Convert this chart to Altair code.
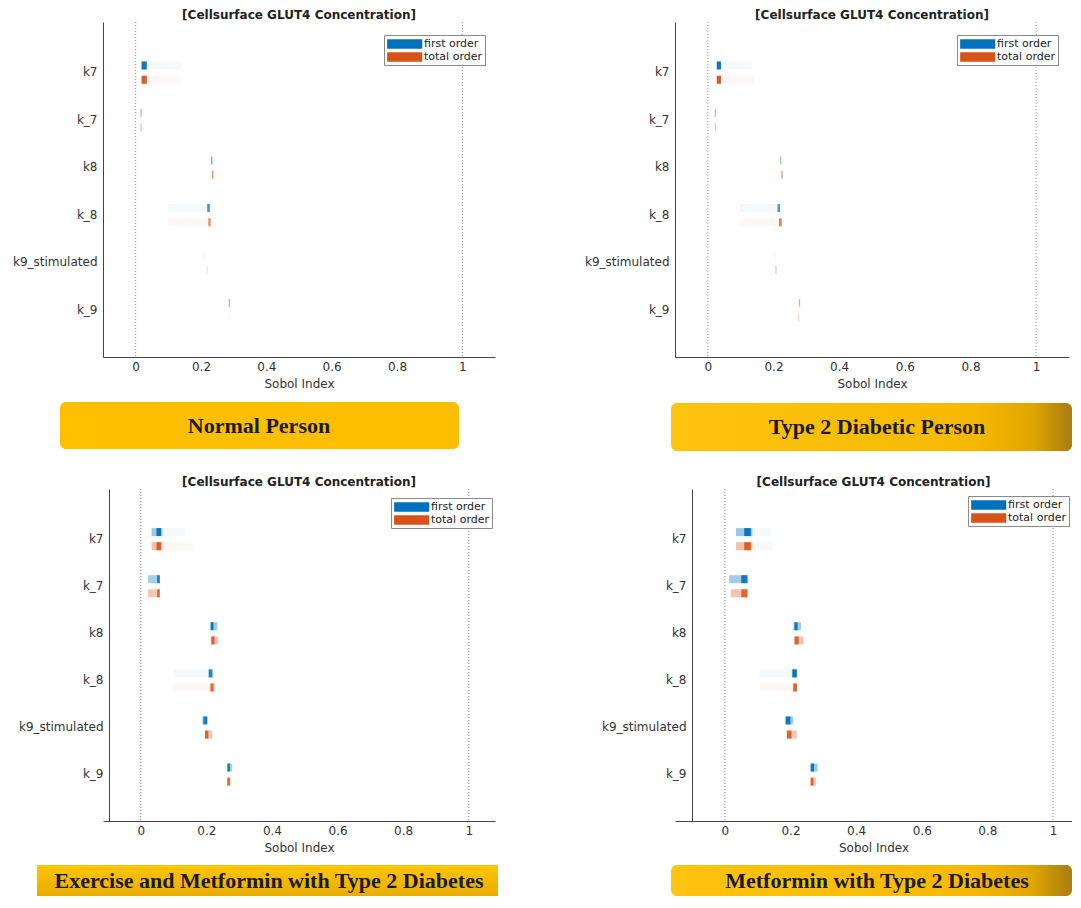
import json
import altair as alt
import pandas as pd

# ---------------- data ----------------
PARAMS = ["k7", "k_7", "k8", "k_8", "k9_stimulated", "k_9"]
ORDERS = ["first order", "total order"]
TITLE = "[Cellsurface GLUT4 Concentration]"
X_TICKS = [0, 0.2, 0.4, 0.6, 0.8, 1]
REF_LINES = [0, 1]
BANNERS = ["Normal Person", "Type 2 Diabetic Person",
           "Exercise and Metformin with Type 2 Diabetes", "Metformin with Type 2 Diabetes"]

# Normal Person
N_FIRST_CORE = [[0.018, 0.034], [0.015, 0.018], [0.231, 0.235], [0.219, 0.227], [0.210, 0.212], [0.285, 0.289]]
N_FIRST_PEAK = [0.95, 0.55, 0.6, 0.75, 0.12, 0.45]
N_FIRST_SPREAD = [[0.034, 0.14], None, None, [0.10, 0.219], None, None]
N_TOTAL_CORE = [[0.018, 0.034], [0.015, 0.018], [0.233, 0.238], [0.222, 0.230], [0.218, 0.220], [0.285, 0.288]]
N_TOTAL_PEAK = [0.95, 0.5, 0.6, 0.6, 0.3, 0.1]
N_TOTAL_SPREAD = [[0.034, 0.14], None, None, [0.10, 0.222], None, None]

# Type 2 Diabetic Person
D_FIRST_CORE = [[0.027, 0.040], [0.021, 0.024], [0.221, 0.224], [0.212, 0.220], [0.204, 0.206], [0.278, 0.281]]
D_FIRST_PEAK = [0.95, 0.5, 0.55, 0.7, 0.1, 0.45]
D_FIRST_SPREAD = [[0.040, 0.136], None, None, [0.098, 0.212], None, None]
D_TOTAL_CORE = [[0.027, 0.040], [0.021, 0.024], [0.224, 0.228], [0.217, 0.225], [0.206, 0.209], [0.275, 0.278]]
D_TOTAL_PEAK = [0.95, 0.45, 0.6, 0.75, 0.45, 0.3]
D_TOTAL_SPREAD = [[0.040, 0.14], None, None, [0.098, 0.217], None, None]

# Exercise and Metformin with Type 2 Diabetes
E_FIRST_CORE = [[0.048, 0.062], [0.050, 0.058], [0.213, 0.222], [0.208, 0.218], [0.191, 0.202], [0.264, 0.272]]
E_FIRST_BODY = [[0.033, 0.066], [0.022, 0.059], [0.213, 0.234], [0.205, 0.221], [0.188, 0.205], [0.264, 0.279]]
E_FIRST_PEAK = [0.95, 0.85, 0.9, 0.8, 0.85, 0.85]
E_FIRST_SPREAD = [[0.066, 0.137], None, None, [0.10, 0.205], None, None]
E_TOTAL_CORE = [[0.048, 0.062], [0.050, 0.058], [0.215, 0.225], [0.213, 0.222], [0.196, 0.206], [0.264, 0.272]]
E_TOTAL_BODY = [[0.033, 0.066], [0.022, 0.059], [0.215, 0.236], [0.211, 0.226], [0.196, 0.218], [0.264, 0.274]]
E_TOTAL_PEAK = [0.9, 0.8, 0.85, 0.8, 0.85, 0.8]
E_TOTAL_SPREAD = [[0.066, 0.16], None, None, [0.10, 0.211], None, None]

# Metformin with Type 2 Diabetes
M_FIRST_CORE = [[0.059, 0.079], [0.050, 0.069], [0.212, 0.222], [0.206, 0.219], [0.186, 0.200], [0.262, 0.272]]
M_FIRST_BODY = [[0.034, 0.084], [0.013, 0.069], [0.209, 0.232], [0.204, 0.221], [0.183, 0.208], [0.260, 0.283]]
M_FIRST_PEAK = [0.95, 0.9, 0.9, 0.95, 0.9, 0.9]
M_FIRST_SPREAD = [[0.084, 0.14], None, None, [0.105, 0.204], None, None]
M_TOTAL_CORE = [[0.059, 0.079], [0.050, 0.069], [0.213, 0.225], [0.209, 0.219], [0.189, 0.203], [0.262, 0.270]]
M_TOTAL_BODY = [[0.034, 0.084], [0.018, 0.069], [0.211, 0.240], [0.207, 0.221], [0.189, 0.219], [0.260, 0.277]]
M_TOTAL_PEAK = [0.9, 0.85, 0.85, 0.9, 0.85, 0.85]
M_TOTAL_SPREAD = [[0.084, 0.145], None, None, [0.105, 0.207], None, None]

NONE6 = [None] * 6
BLUE = "#0072BD"
ORANGE = "#D95319"


def frame(first, total):
    rows = []
    for order, (core, peak, body, spread) in zip(ORDERS, (first, total)):
        off = (-0.22, -0.05) if order == ORDERS[0] else (0.08, 0.25)
        for i, p in enumerate(PARAMS):
            y1, y2 = i + 1 + off[0], i + 1 + off[1]
            if spread[i]:
                rows.append(dict(order=order, lo=spread[i][0], hi=spread[i][1], op=0.045, y1=y1, y2=y2))
            if body[i]:
                rows.append(dict(order=order, lo=body[i][0], hi=body[i][1], op=0.4 * peak[i], y1=y1, y2=y2))
            rows.append(dict(order=order, lo=core[i][0], hi=core[i][1], op=peak[i], y1=y1, y2=y2))
    return pd.DataFrame(rows)


def grad(stops, x2=1, y2=0):
    return alt.LinearGradient(gradient="linear", x1=0, y1=0, x2=x2, y2=y2,
                              stops=[alt.GradientStop(color=c, offset=o) for o, c in stops])


LABEL_EXPR = json.dumps([""] + PARAMS) + "[datum.value]"


def panel(df, xdom, width, height, lxy, text, box, txy, fill, yoff=0, radius=6):
    xs = alt.Scale(domain=xdom, nice=False, zero=False)
    ys = alt.Scale(domain=[-0.05, 7.0], reverse=True, nice=False, zero=False)
    xaxis = alt.Axis(values=X_TICKS, format="~g", title="Sobol Index", grid=False, ticks=False,
                     labelPadding=4, titlePadding=6)
    rules = alt.Chart(pd.DataFrame({"lo": REF_LINES})).mark_rule(
        color="#8c8c8c", strokeDash=[1, 2], strokeWidth=1).encode(x=alt.X("lo:Q", scale=xs, axis=xaxis))
    bars = alt.Chart(df).mark_rect().encode(
        x=alt.X("lo:Q", scale=xs, axis=xaxis),
        x2="hi:Q",
        y=alt.Y("y1:Q", scale=ys, axis=alt.Axis(values=[1, 2, 3, 4, 5, 6], labelExpr=LABEL_EXPR, title=None,
                                                 grid=False, ticks=False, labelPadding=6, offset=yoff)),
        y2="y2:Q",
        color=alt.Color("order:N", scale=alt.Scale(domain=ORDERS, range=[BLUE, ORANGE]),
                        legend=alt.Legend(orient="none", legendX=lxy[0], legendY=lxy[1], title=None,
                                          symbolType="M-1,-0.8H5V0.8H-1Z", symbolSize=137,
                                          symbolStrokeWidth=0, symbolOpacity=1, labelFontSize=11,
                                          labelFont="DejaVu Sans", labelColor="#222", labelOffset=25,
                                          strokeColor="#8a8a8a", fillColor="white", padding=3,
                                          rowPadding=2, cornerRadius=0)),
        opacity=alt.Opacity("op:Q", scale=None, legend=None),
    )
    bdf = pd.DataFrame({"t": [text]})
    rect = alt.Chart(bdf).mark_rect(fill=fill, cornerRadius=radius).encode(
        x=alt.value(box[0]), x2=alt.value(box[1]), y=alt.value(box[2]), y2=alt.value(box[3]))
    label = alt.Chart(bdf).mark_text(font="Liberation Serif", fontSize=22, fontWeight="bold",
                                      color="#1a1a1a", align="center", baseline="middle").encode(
        x=alt.value(txy[0]), y=alt.value(txy[1]), text="t:N")
    return alt.layer(rules, bars, rect, label).properties(
        width=width, height=height,
        title=alt.TitleParams(TITLE, fontSize=12, fontWeight="bold", font="DejaVu Sans", color="#222",
                              offset=0, anchor="middle", frame="group"))


GOLD = grad([(0, "#FFC000"), (1, "#FDBE00")])
GOLD_DARK = grad([(0, "#FFC410"), (0.75, "#F7B900"), (0.9, "#E0A600"), (1, "#A97B12")])
GOLD_V = grad([(0, "#FFC600"), (1, "#E8AC00")], x2=0, y2=1)

tl = panel(frame((N_FIRST_CORE, N_FIRST_PEAK, NONE6, N_FIRST_SPREAD),
                 (N_TOTAL_CORE, N_TOTAL_PEAK, NONE6, N_TOTAL_SPREAD)),
           [-0.1, 1.1], 392, 335, (281, 13), BANNERS[0], (-43, 356, 380, 427), (156, 404), GOLD)
tr = panel(frame((D_FIRST_CORE, D_FIRST_PEAK, NONE6, D_FIRST_SPREAD),
                 (D_TOTAL_CORE, D_TOTAL_PEAK, NONE6, D_TOTAL_SPREAD)),
           [-0.1, 1.1], 394, 335, (282, 13), BANNERS[1], (-4, 397, 381, 429), (202, 405), GOLD_DARK)
bl = panel(frame((E_FIRST_CORE, E_FIRST_PEAK, E_FIRST_BODY, E_FIRST_SPREAD),
                 (E_TOTAL_CORE, E_TOTAL_PEAK, E_TOTAL_BODY, E_TOTAL_SPREAD)),
           [-0.115, 1.080], 392, 332, (288, 9), BANNERS[2], (-66, 395, 376, 407), (166, 392), GOLD_V,
           yoff=-6, radius=0)
br = panel(frame((M_FIRST_CORE, M_FIRST_PEAK, M_FIRST_BODY, M_FIRST_SPREAD),
                 (M_TOTAL_CORE, M_TOTAL_PEAK, M_TOTAL_BODY, M_TOTAL_SPREAD)),
           [-0.152, 1.058], 397, 332, (293, 7), BANNERS[3], (-4, 397, 376, 407), (202, 392), GOLD_DARK,
           yoff=-17)

chart = alt.concat(tl, tr, bl, br, columns=2, spacing={"row": 132, "column": 180},
                   bounds="flush", align="none").resolve_scale(color="independent").resolve_legend(
    color="independent").properties(
    padding={"left": 4, "top": 0, "right": 0, "bottom": 0}
).configure_view(stroke=None).configure_axis(
    domainColor="#444", domainWidth=1, labelFont="DejaVu Sans", labelFontSize=12, labelColor="#333",
    titleFont="DejaVu Sans", titleFontSize=12, titleFontWeight="normal", titleColor="#333"
)

chart.save("out.html", embed_options={"renderer": "svg", "actions": False})
